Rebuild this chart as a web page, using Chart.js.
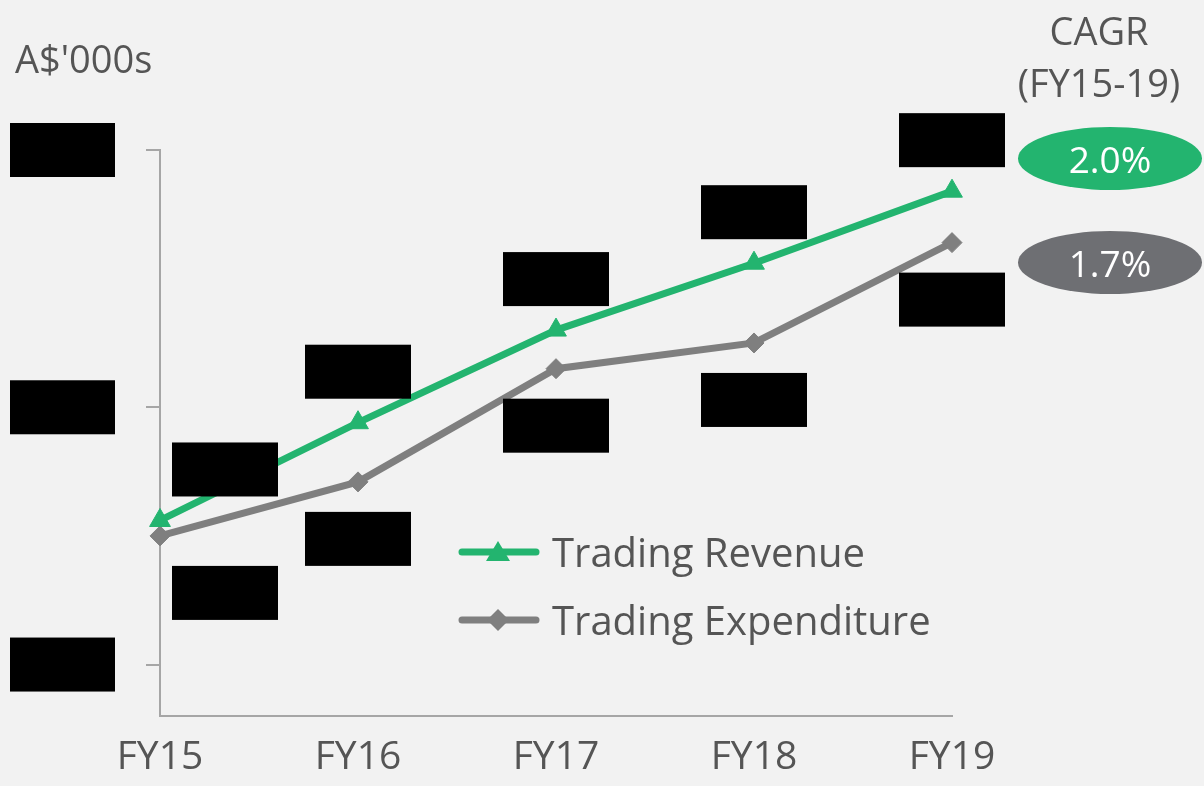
<!DOCTYPE html>
<html>
<head>
<meta charset="utf-8">
<script src="https://cdn.jsdelivr.net/npm/chart.js@4/dist/chart.umd.min.js"></script>
<style>
  body { margin: 0; background: #f2f2f2; font-family: 'Open Sans', sans-serif; color: #555555; }
  #wrap { position: relative; width: 1204px; height: 786px; overflow: hidden; }
  canvas { position: absolute; left: 0; top: 0; }
  .txt { position: absolute; white-space: nowrap; }
  #unit { left: 15px; top: 39px; font-size: 38px; line-height: 38px; }
  #cagrHead { left: 998px; width: 202px; top: 4px; font-size: 38px; line-height: 52px; text-align: center; }
  .pill { position: absolute; left: 1018px; width: 184px; height: 63px; border-radius: 50%;
          color: #fff; font-size: 37px; display: flex; align-items: center; justify-content: center; }
  .leg { position: absolute; left: 458px; height: 40px; display: flex; align-items: center; font-size: 40px; line-height: 40px; }
  .leg svg { margin-right: 12px; }
</style>
</head>
<body>
<div id="wrap">
  <canvas id="lineChart" width="1204" height="786"></canvas>
  <div class="txt" id="unit">A$'000s</div>
  <div class="txt" id="cagrHead">CAGR<br>(FY15-19)</div>
  <div id="pills"></div>
  <div id="legend"></div>
</div>
<script>
// chart values (A$'000s)
let years = ['FY15', 'FY16', 'FY17', 'FY18', 'FY19'];
let revenue = [77800, 79700, 81500, 82800, 84200];
let expenditure = [77500, 78550, 80750, 81250, 83200];
let y_ticks = [75000, 80000, 85000];
let series_names = ['Trading Revenue', 'Trading Expenditure'];
let cagr = ['2.0%', '1.7%'];

let green = '#23b46f';
let grey = '#7f7f7f';
let axisGrey = '#a6a6a6';

// redaction boxes over the tick labels and the data labels
let blackBoxes = {
    id: 'blackBoxes',
    afterDraw(chart) {
        let ctx = chart.ctx;
        let y = chart.scales.y;
        ctx.save();
        ctx.fillStyle = '#000';
        y.ticks.forEach(function (t) {
            let py = y.getPixelForValue(t.value);
            ctx.fillRect(10, py - 27, 105, 54);
        });
        chart.data.datasets.forEach(function (ds, i) {
            let meta = chart.getDatasetMeta(i);
            meta.data.forEach(function (pt, j) {
                let cx = pt.x + (j === 0 ? 65 : 0);
                let cy = i === 0 ? pt.y - 51 : pt.y + 57;
                ctx.fillRect(cx - 53, cy - 27, 106, 54);
            });
        });
        ctx.restore();
    }
};

let ctx1 = document.getElementById('lineChart');
let lineChart = new Chart(ctx1, {
    type: 'line',
    data: {
        labels: years,
        datasets: [{
            label: series_names[0],
            data: revenue,
            borderColor: green,
            backgroundColor: green,
            borderWidth: 7,
            pointStyle: 'triangle',
            pointRadius: 12,
            pointBorderWidth: 1,
            clip: false
        }, {
            label: series_names[1],
            data: expenditure,
            borderColor: grey,
            backgroundColor: grey,
            borderWidth: 7,
            pointStyle: 'rectRot',
            pointRadius: 10,
            pointBorderWidth: 1,
            clip: false
        }]
    },
    options: {
        responsive: false,
        animation: false,
        layout: { padding: { top: 150, right: 252, left: 0, bottom: 0 } },
        plugins: { legend: { display: false }, tooltip: { enabled: false } },
        scales: {
            x: {
                offset: false,
                grid: { display: false },
                border: { display: true, color: axisGrey, width: 2 },
                ticks: { color: '#555555', font: { family: 'Open Sans', size: 39 }, padding: 10, maxRotation: 0 },
                afterFit: function (scale) { scale.height = 70; }
            },
            y: {
                min: 74000,
                max: 85000,
                grid: { display: true, drawOnChartArea: false, drawTicks: true, tickLength: 14, color: axisGrey, lineWidth: 2 },
                border: { display: true, color: axisGrey, width: 2 },
                ticks: { display: false },
                afterBuildTicks: function (scale) { scale.ticks = y_ticks.map(function (v) { return { value: v }; }); },
                afterFit: function (scale) { scale.width = 160; }
            }
        }
    },
    plugins: [blackBoxes]
});

// CAGR pills
let pillColours = [green, '#6e6f73'];
let pillTops = [127, 231];
let pills = document.getElementById('pills');
cagr.forEach(function (c, i) {
    let d = document.createElement('div');
    d.className = 'pill';
    d.style.top = pillTops[i] + 'px';
    d.style.background = pillColours[i];
    d.textContent = c;
    pills.appendChild(d);
});

// legend
let legendTops = [532, 600];
let markers = [
    '<polygon points="40,2 52,22 28,22" fill="' + green + '"/>',
    '<polygon points="40,2 51,13 40,24 29,13" fill="' + grey + '"/>'
];
let lineColours = [green, grey];
let legend = document.getElementById('legend');
series_names.forEach(function (name, i) {
    let row = document.createElement('div');
    row.className = 'leg';
    row.style.top = legendTops[i] + 'px';
    row.innerHTML = '<svg width="82" height="26" viewBox="0 0 82 26">' +
        '<line x1="4" y1="13" x2="78" y2="13" stroke="' + lineColours[i] + '" stroke-width="7" stroke-linecap="round"/>' +
        markers[i] + '</svg><span>' + name + '</span>';
    legend.appendChild(row);
});
</script>
</body>
</html>
